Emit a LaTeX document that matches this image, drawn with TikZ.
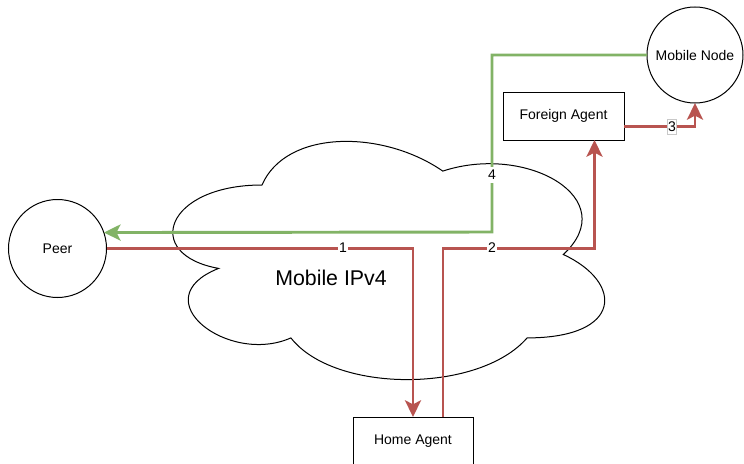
\documentclass[tikz,border=0pt]{standalone}
\usepackage{fontspec}
\setmainfont{Liberation Sans}
\usetikzlibrary{arrows.meta}

\begin{document}
\begin{tikzpicture}[x=0.75pt,y=0.75pt,yscale=-1,xscale=1,
  every node/.style={font=\fontsize{10.5}{12}\selectfont},
  flowline/.style={line width=2.2pt,-{Stealth[length=12.5pt,width=12pt,inset=3pt]}},
  redline/.style={flowline,color={rgb, 255:red, 184; green, 84; blue, 80 }},
  greenline/.style={flowline,color={rgb, 255:red, 130; green, 179; blue, 102 }},
  hostbox/.style={draw,line width=0.75pt,minimum width=90pt,minimum height=36pt,inner sep=0pt,outer sep=0pt},
  hostcircle/.style={draw,circle,line width=0.75pt,inner sep=0pt,outer sep=0pt},
  steplabel/.style={fill=white,inner sep=1pt}]
\useasboundingbox (0,0) rectangle (744,464);

%Shape: Cloud 
\draw [line width=0.75pt]  (262,185) .. controls (165.6,185) and (141.5,254.5) .. (218.6,268.4) .. controls (141.5,299) and (228.3,365.7) .. (290.9,337.9) .. controls (334.3,393.5) and (478.9,393.5) .. (527.1,337.9) .. controls (623.5,337.9) and (623.5,282.3) .. (563.3,254.5) .. controls (623.5,198.9) and (527.1,143.3) .. (442.8,171.1) .. controls (382.5,129.4) and (286.1,129.4) .. (262,185) -- cycle ;

% Text Node
\node (cloudname) at (331,278) {\fontsize{16}{19}\selectfont Mobile IPv4};

%Shape: Circle 
\node [hostcircle,minimum size=73.5pt] (peer) at (57.5,248.5) {Peer};
%Shape: Circle 
\node [hostcircle,minimum size=72pt] (mobile) at (695,55) {Mobile Node};
%Shape: Rectangle 
\node [hostbox,minimum width=90.75pt] (foreign) at (563.5,116) {Foreign Agent};
%Shape: Rectangle 
\node [hostbox] (home) at (413,441) {Home Agent};

\coordinate (greendrop) at (492,232);

%Straight Lines 
\draw [redline]   (peer.east) -| (home.north) ;
%Straight Lines 
\draw [redline]   ([xshift=22.5pt]home.north) -- ([xshift=22.5pt]home.north |- peer.east) -| ([xshift=23.25pt]foreign.south) ;
%Straight Lines 
\draw [redline]   ([yshift=8pt]foreign.east) -| (mobile.south) ;
%Straight Lines 
\draw [greenline]   (mobile.west) -| (greendrop) -- (peer.19) ;

% Text Node
\node [steplabel] (step1) at (343,248) {1};
% Text Node
\node [steplabel] (step2) at (492,248) {2};
% Text Node
\node [steplabel,draw={rgb, 255:red, 200; green, 200; blue, 200 },line width=0.4pt,inner xsep=0.5pt,inner ysep=2pt] (step3) at (672,127) {3};
% Text Node
\node [steplabel,inner ysep=2.5pt] (step4) at (492,175) {4};

\end{tikzpicture}
\end{document}
